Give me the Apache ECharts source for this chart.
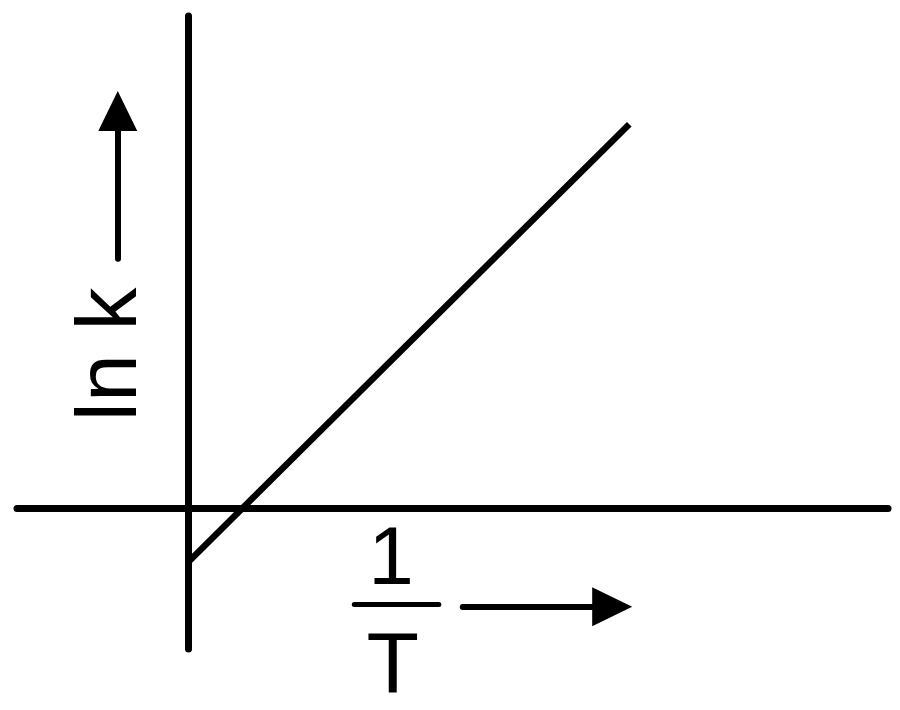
<!DOCTYPE html>
<html>
<head>
<meta charset="utf-8">
<script src="https://cdn.jsdelivr.net/npm/echarts@6/dist/echarts.min.js"></script>
<style>
html,body{margin:0;padding:0;background:#fff;}
#main{width:900px;height:710px;}
</style>
</head>
<body>
<div id="main"></div>
<script>
// axis ranges (schematic units, no ticks shown)
var xRange = [-0.2, 0.82];
var yRange = [-0.2, 0.7];

// the ln k vs 1/T straight line
var lineX = [0, 0.517];
var lineY = [-0.077, 0.546];

// arrows next to the axis titles: [from, to]
var upArrow = [[-0.082, 0.355], [-0.082, 0.565]];
var rightArrow = [[0.322, -0.140], [0.497, -0.140]];
// fraction bar of 1/T
var fracBar = [[0.195, -0.136], [0.294, -0.136]];

// text labels and their anchor points
var yTitle = "ln k";
var yTitlePos = [-0.0888, 0.219];
var fracTop = "1";
var fracTopPos = [0.238, -0.0757];
var fracBottom = "T";
var fracBottomPos = [0.240, -0.228];

var font = '"Liberation Sans", Arial, sans-serif';

var lineData = [];
for (var i = 0; i < lineX.length; i++) {
    lineData.push([lineX[i], lineY[i]]);
}

function arrowPair(a) {
    return [
        {coord: a[0], symbol: 'none'},
        {coord: a[1], symbol: 'triangle', symbolSize: [39, 40]}
    ];
}

var myChart = echarts.init(document.getElementById('main'));
var option = {
    animation: false,
    backgroundColor: '#fff',
    grid: {left: 17, right: 12, top: 16, bottom: 61, containLabel: false},
    xAxis: {
        type: 'value', min: xRange[0], max: xRange[1],
        axisLine: {onZero: true, lineStyle: {color: '#000', width: 7, cap: 'round'}},
        axisTick: {show: false}, axisLabel: {show: false}, splitLine: {show: false}
    },
    yAxis: {
        type: 'value', min: yRange[0], max: yRange[1],
        axisLine: {onZero: true, lineStyle: {color: '#000', width: 7, cap: 'round'}},
        axisTick: {show: false}, axisLabel: {show: false}, splitLine: {show: false}
    },
    series: [{
        type: 'line',
        data: lineData,
        showSymbol: false,
        symbol: 'none',
        lineStyle: {color: '#000', width: 6.5},
        silent: true,
        markLine: {
            silent: true,
            animation: false,
            symbol: ['none', 'triangle'],
            label: {show: false},
            lineStyle: {type: 'solid', color: '#000', width: 6, cap: 'round'},
            itemStyle: {color: '#000'},
            data: [
                arrowPair(upArrow),
                arrowPair(rightArrow),
                [
                    {coord: fracBar[0], symbol: 'none', lineStyle: {width: 5}},
                    {coord: fracBar[1], symbol: 'none'}
                ]
            ]
        }
    }]
};
myChart.setOption(option);

// place the text labels from data coordinates
var p1 = myChart.convertToPixel({gridIndex: 0}, yTitlePos);
var p2 = myChart.convertToPixel({gridIndex: 0}, fracTopPos);
var p3 = myChart.convertToPixel({gridIndex: 0}, fracBottomPos);
myChart.setOption({
    graphic: [
        {type: 'text', x: p1[0], y: p1[1], rotation: Math.PI / 2, silent: true,
            style: {text: yTitle, font: '86px ' + font, fill: '#000', align: 'center', verticalAlign: 'middle'}},
        {type: 'text', x: p2[0], y: p2[1], silent: true,
            style: {text: fracTop, font: '82px ' + font, fill: '#000', align: 'center', verticalAlign: 'middle'}},
        {type: 'text', x: p3[0], y: p3[1], silent: true,
            style: {text: fracBottom, font: '86px ' + font, fill: '#000', align: 'center', verticalAlign: 'middle'}}
    ]
});
</script>
</body>
</html>
